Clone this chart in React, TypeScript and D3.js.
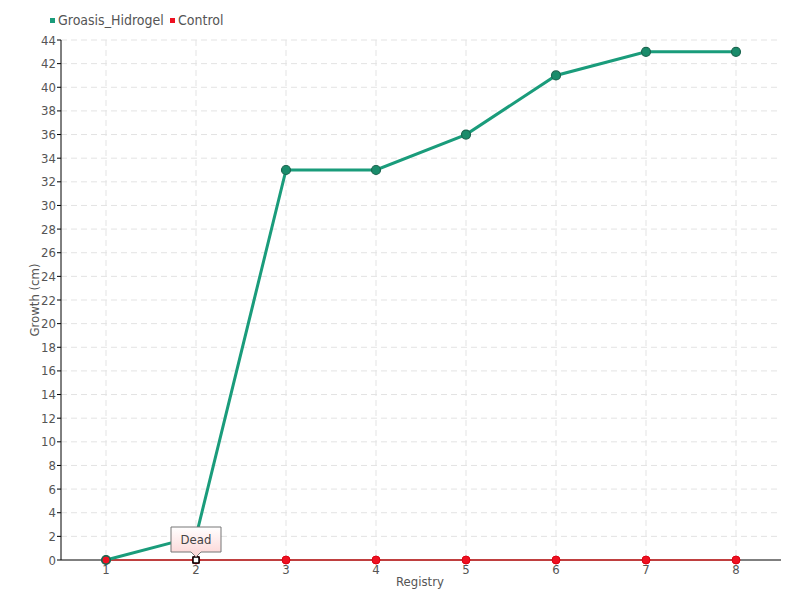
import React from "react";
import * as d3 from "d3";

const categories = [1, 2, 3, 4, 5, 6, 7, 8];
const groasis = [0, 2, 33, 33, 36, 41, 43, 43];
const control = [0, 0, 0, 0, 0, 0, 0, 0];
const yTicks = d3.range(0, 45, 2);
const seriesNames = ["Groasis_Hidrogel", "Control"];
const annotationLabel = "Dead";

export default function App() {
  const W = 800, H = 600;
  const left = 61, right = 781, top = 40, bottom = 560;
  const x = d3.scaleLinear().domain([0.5, 8.5]).range([left, right]);
  const y = d3.scaleLinear().domain([0, 44]).range([bottom, top]);
  const font = "'DejaVu Sans Condensed', 'Liberation Sans Narrow', sans-serif";
  const line = d3.line<number>().x((_, i) => x(categories[i])).y((d) => y(d));
  const ax = x(categories[1]);
  const ay = y(control[1]);
  return (
    <svg width={W} height={H} style={{ position: "absolute", left: 0, top: 0 }}>
      <defs>
        <linearGradient id="tip" x1="0" y1="0" x2="0" y2="1">
          <stop offset="0" stopColor="#ffffff" />
          <stop offset="1" stopColor="#fcd3d3" />
        </linearGradient>
      </defs>
      <rect width={W} height={H} fill="#fff" />
      {yTicks.filter((t) => t > 0).map((t) => (
        <line key={"h" + t} x1={left} x2={right} y1={y(t)} y2={y(t)} stroke="#e3e3e3" strokeDasharray="6,4" />
      ))}
      {categories.map((c) => (
        <line key={"v" + c} x1={x(c)} x2={x(c)} y1={top} y2={bottom} stroke="#e3e3e3" strokeDasharray="6,4" />
      ))}
      <line x1={left} x2={right} y1={bottom} y2={bottom} stroke="#000" />
      <line x1={left} x2={left} y1={top} y2={bottom} stroke="#000" />
      {yTicks.map((t) => (
        <g key={"yt" + t}>
          <line x1={left - 4} x2={left} y1={y(t)} y2={y(t)} stroke="#000" />
          <text x={left - 5} y={y(t)} dy="0.35em" textAnchor="end" fontFamily={font} fontSize={13} fill="#555">{t}</text>
        </g>
      ))}
      {categories.map((c) => (
        <g key={"xt" + c}>
          <line x1={x(c)} x2={x(c)} y1={bottom} y2={bottom + 4} stroke="#000" />
          <text x={x(c)} y={bottom + 14} textAnchor="middle" fontFamily={font} fontSize={13} fill="#555">{c}</text>
        </g>
      ))}
      <text x={420} y={586} textAnchor="middle" fontFamily={font} fontSize={13} fill="#555">Registry</text>
      <text transform={`translate(39,${(top + bottom) / 2}) rotate(-90)`} textAnchor="middle" fontFamily={font} fontSize={13} fill="#555">Growth (cm)</text>

      <path d={line(control) || ""} fill="none" stroke="#ff0000" strokeWidth={1.2} />
      {control.map((v, i) => (
        <circle key={"c" + i} cx={x(categories[i])} cy={y(v)} r={4} fill="#ee1122" stroke="#dd0011" />
      ))}
      <path d={line(groasis) || ""} fill="none" stroke="#1a9c7b" strokeWidth={3} />
      {groasis.map((v, i) => i === 1 ? null : (
        <circle key={"g" + i} cx={x(categories[i])} cy={y(v)} r={4.5} fill="#1a8c6b" stroke="#1b6650" strokeWidth={1.2} />
      ))}
      <circle cx={x(categories[0])} cy={y(control[0])} r={4} fill="#ee1122" stroke="#1b6650" />

      <rect x={ax - 3} y={ay - 3} width={6} height={6} fill="#fff" stroke="#000" strokeWidth={1.5} />
      <path d={`M${ax - 25},${ay - 33} h50 v25 h-20 l-5,5 l-5,-5 h-20 z`} fill="url(#tip)" stroke="#777" />
      <text x={ax} y={ay - 16} textAnchor="middle" fontFamily={font} fontSize={13} fill="#444">{annotationLabel}</text>

      <rect x={50} y={18} width={5} height={5} fill="#1a9c7b" />
      <text x={58} y={25} fontFamily={font} fontSize={14} fill="#555">{seriesNames[0]}</text>
      <rect x={170} y={18} width={5} height={5} fill="#ee1122" />
      <text x={178} y={25} fontFamily={font} fontSize={14} fill="#555">{seriesNames[1]}</text>
    </svg>
  );
}
